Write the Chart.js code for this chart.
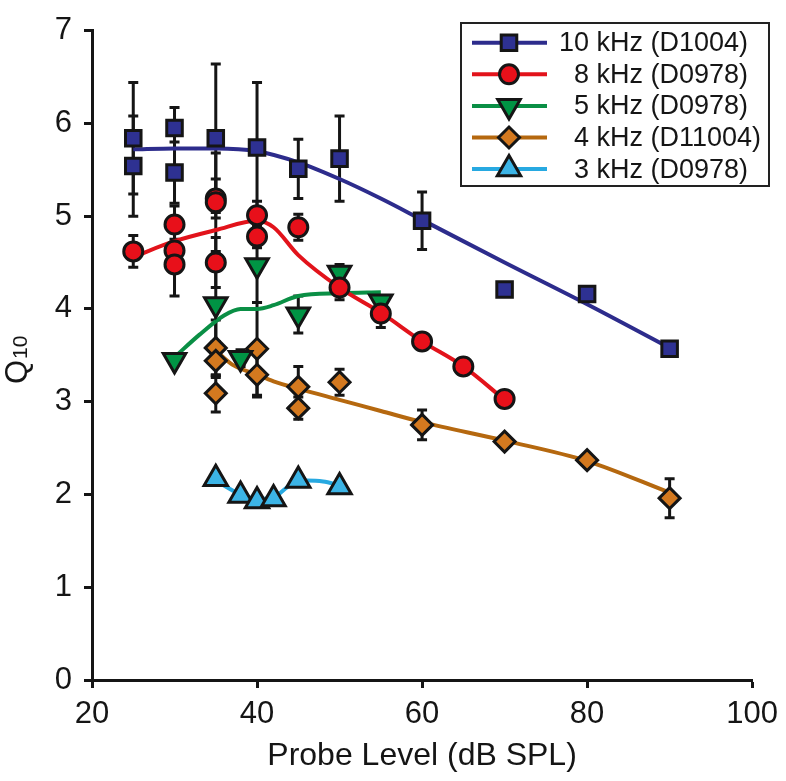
<!DOCTYPE html>
<html>
<head>
<meta charset="utf-8">
<script src="https://cdn.jsdelivr.net/npm/chart.js@4"></script>
<style>
  body { margin: 0; background: #fff; }
  #wrap { width: 786px; height: 781px; }
</style>
</head>
<body>
<div id="wrap"><canvas id="myChart" width="786" height="781"></canvas></div>
<script>
// probe level (dB SPL) and Q10 values, error = +/- SD
var x10 = [25, 25, 30, 30, 35, 40, 45, 50, 60, 70, 80, 90];
var q10k = [5.84, 5.54, 5.95, 5.47, 5.84, 5.74, 5.51, 5.62, 4.95, 4.21, 4.16, 3.57];
var e10k = [0.60, 0.54, 0.22, 0.33, 0.80, 0.70, 0.32, 0.46, 0.31, 0.06, 0.05, 0.04];

var x8 = [25, 30, 30, 30, 35, 35, 35, 40, 40, 45, 50, 55, 60, 65, 70];
var q8k = [4.62, 4.91, 4.63, 4.48, 5.19, 5.15, 4.50, 5.01, 4.78, 4.88, 4.23, 3.95, 3.65, 3.38, 3.03];
var e8k = [0.17, 0.20, 0.12, 0.34, 0.21, 0.53, 0.27, 0.15, 0.12, 0.14, 0.13, 0.15, 0.03, 0.03, 0.07];

var x5 = [30, 35, 38, 40, 45, 50, 55];
var q5k = [3.45, 4.05, 3.47, 4.47, 3.94, 4.39, 4.08];
var e5k = [0.03, 0.40, 0.09, 0.40, 0.20, 0.09, 0.06];

var x4 = [35, 35, 35, 40, 40, 45, 45, 50, 60, 70, 80, 90];
var q4k = [3.58, 3.44, 3.09, 3.57, 3.29, 3.16, 2.93, 3.21, 2.75, 2.57, 2.37, 1.96];
var e4k = [0.30, 0.18, 0.20, 0.50, 0.24, 0.22, 0.12, 0.14, 0.16, 0.03, 0.03, 0.21];

var x3 = [35, 38, 40, 42, 45, 50];
var q3k = [2.17, 1.99, 1.93, 1.95, 2.15, 2.08];
var e3k = [0.05, 0.04, 0.05, 0.04, 0.04, 0.05];

// fitted curves
var fit10x = [25, 30, 35, 40, 45, 50, 55, 60, 70, 80, 90];
var fit10y = [5.72, 5.73, 5.73, 5.70, 5.58, 5.40, 5.19, 4.96, 4.50, 4.05, 3.58];
var fit8x = [25, 30, 35, 40, 42, 45, 50, 55, 60, 65, 70];
var fit8y = [4.56, 4.73, 4.85, 4.95, 4.88, 4.58, 4.23, 3.96, 3.65, 3.38, 3.02];
var fit5x = [30, 33, 36, 38, 40, 42, 45, 50, 55];
var fit5y = [3.48, 3.72, 3.93, 4.00, 4.00, 4.04, 4.14, 4.17, 4.18];
var fit4x = [35, 37, 40, 42, 45, 50, 55, 60, 70, 80, 90];
var fit4y = [3.55, 3.40, 3.29, 3.22, 3.14, 3.02, 2.90, 2.78, 2.58, 2.36, 2.02];
var fit3x = [35, 38, 40, 42, 44, 46, 48, 50];
var fit3y = [2.15, 2.00, 1.95, 1.97, 2.10, 2.15, 2.14, 2.10];

var labels = ['10 kHz (D1004)', '\u20078 kHz (D0978)', '\u20075 kHz (D0978)', '\u20074 kHz (D11004)', '\u20073 kHz (D0978)'];
var xTicks = [20, 40, 60, 80, 100];

var INK = '#151515';
var series = [
  { x: x10, y: q10k, err: e10k, fx: fit10x, fy: fit10y, fill: '#2e3192', line: '#2d2c8c', style: 'rect', r: 11, rot: 0 },
  { x: x8, y: q8k, err: e8k, fx: fit8x, fy: fit8y, fill: '#e8101a', line: '#e2131b', style: 'circle', r: 9.5, rot: 0 },
  { x: x5, y: q5k, err: e5k, fx: fit5x, fy: fit5y, fill: '#009444', line: '#0a8f45', style: 'triangle', r: 13, rot: 180 },
  { x: x4, y: q4k, err: e4k, fx: fit4x, fy: fit4y, fill: '#d4791f', line: '#b5680f', style: 'rectRot', r: 10.5, rot: 0 },
  { x: x3, y: q3k, err: e3k, fx: fit3x, fy: fit3y, fill: '#3cb4e6', line: '#27a9e1', style: 'triangle', r: 13.5, rot: 0 }
];

function pts(xs, ys) {
  return xs.map(function (v, i) { return { x: v, y: ys[i] }; });
}

var datasets = [];
series.forEach(function (s, k) {
  datasets.push({
    label: labels[k] + ' fit',
    data: pts(s.fx, s.fy),
    showLine: true,
    borderColor: s.line,
    borderWidth: 4,
    pointRadius: 0,
    cubicInterpolationMode: 'monotone',
    fill: false,
    order: 10
  });
  datasets.push({
    label: labels[k],
    data: pts(s.x, s.y),
    showLine: false,
    pointStyle: s.style,
    pointRotation: s.rot,
    pointRadius: s.r,
    pointHoverRadius: s.r,
    pointBackgroundColor: s.fill,
    pointBorderColor: INK,
    pointBorderWidth: 3,
    order: 0
  });
});

var errorBars = {
  id: 'errorBars',
  beforeDatasetsDraw: function (chart) {
    var c = chart.ctx, xs = chart.scales.x, ys = chart.scales.y;
    c.save();
    c.strokeStyle = INK;
    c.lineWidth = 3;
    series.forEach(function (s) {
      s.x.forEach(function (v, i) {
        var px = xs.getPixelForValue(v);
        var top = ys.getPixelForValue(s.y[i] + s.err[i]);
        var bot = ys.getPixelForValue(s.y[i] - s.err[i]);
        c.beginPath();
        c.moveTo(px, top); c.lineTo(px, bot);
        c.moveTo(px - 5, top); c.lineTo(px + 5, top);
        c.moveTo(px - 5, bot); c.lineTo(px + 5, bot);
        c.stroke();
      });
    });
    c.restore();
  }
};

var extras = {
  id: 'extras',
  afterDraw: function (chart) {
    var c = chart.ctx;
    c.save();
    // y title Q10
    c.translate(27, 384);
    c.rotate(-Math.PI / 2);
    c.fillStyle = INK;
    c.textBaseline = 'alphabetic';
    c.font = '31px "Liberation Sans", Arial, sans-serif';
    c.fillText('Q', 0, 0);
    var w = c.measureText('Q').width;
    c.font = '21px "Liberation Sans", Arial, sans-serif';
    c.fillText('10', w + 1, 0);
    c.restore();

    // legend
    c.save();
    c.fillStyle = '#fff';
    c.fillRect(461, 23, 308, 163);
    c.strokeStyle = '#222';
    c.lineWidth = 2;
    c.strokeRect(461, 23, 308, 163);
    series.forEach(function (s, k) {
      var y = 42.7 + k * 31.6;
      c.strokeStyle = s.line;
      c.lineWidth = 4;
      c.beginPath();
      c.moveTo(472, y); c.lineTo(547, y);
      c.stroke();
      c.fillStyle = s.fill;
      c.strokeStyle = INK;
      c.lineWidth = 3;
      Chart.helpers.drawPoint(c, { pointStyle: s.style, rotation: s.rot, radius: s.r, borderWidth: 3 }, 509, y);
      c.fillStyle = INK;
      c.font = '27px "Liberation Sans", Arial, sans-serif';
      c.textBaseline = 'middle';
      c.fillText(labels[k], 559, y + 1);
    });
    c.restore();
  }
};

Chart.defaults.font.family = '"Liberation Sans", Arial, sans-serif';
Chart.defaults.color = INK;

var ctx = document.getElementById('myChart');
var myChart = new Chart(ctx, {
  type: 'scatter',
  data: { datasets: datasets },
  options: {
    responsive: false,
    animation: false,
    layout: { padding: { top: 19, right: 33, left: 0, bottom: 0 } },
    plugins: { legend: { display: false }, tooltip: { enabled: false } },
    scales: {
      x: {
        type: 'linear', min: 20, max: 100,
        afterBuildTicks: function (scale) { scale.ticks = xTicks.map(function (v) { return { value: v }; }); },
        afterFit: function (scale) { scale.height = 101; },
        ticks: { font: { size: 31 }, color: INK, padding: 8, maxRotation: 0 },
        grid: { drawOnChartArea: false, drawTicks: true, tickLength: 8, tickWidth: 3, tickColor: INK },
        border: { display: true, color: INK, width: 3 },
        title: { display: true, text: 'Probe Level (dB SPL)', font: { size: 32 }, color: INK, padding: { top: 0, bottom: 6 } }
      },
      y: {
        min: 0, max: 7,
        afterFit: function (scale) { scale.width = 92; },
        ticks: { stepSize: 1, font: { size: 31 }, color: INK, padding: 12 },
        grid: { drawOnChartArea: false, drawTicks: true, tickLength: 8, tickWidth: 3, tickColor: INK },
        border: { display: true, color: INK, width: 3 }
      }
    }
  },
  plugins: [errorBars, extras]
});
</script>
</body>
</html>
